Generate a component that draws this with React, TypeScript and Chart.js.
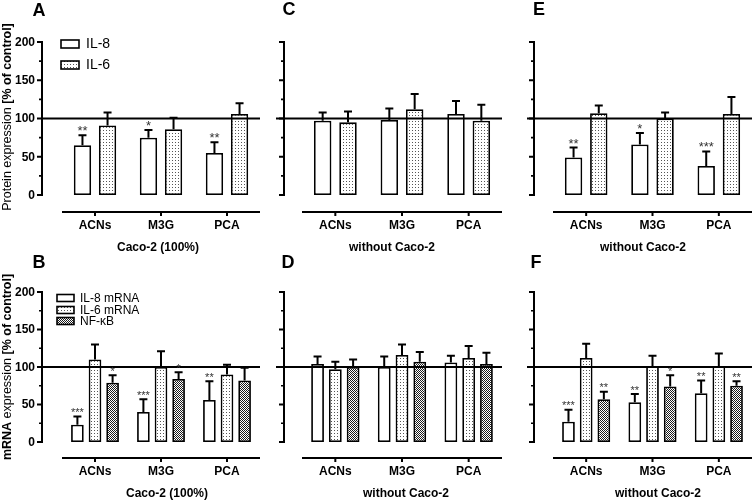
import React, { useEffect, useRef } from 'react';
import { Chart, registerables } from 'chart.js';

Chart.register(...registerables);

// ---------- data ----------
const categories = ['ACNs', 'M3G', 'PCA'];
const yMajorTicks = [0, 50, 100, 150, 200];
const yMinorTicks = [25, 75, 125, 175];
const controlLevel = 100;

const proteinLegend = ['IL-8', 'IL-6'];
const mrnaLegend = ['IL-8 mRNA', 'IL-6 mRNA', 'NF-\u03baB'];

// A: protein, Caco-2 (100%)
const aIL8 = [65, 75, 55];
const aIL8Err = [13, 10, 14];
const aIL8Sig = ['**', '*', '**'];
const aIL6 = [91, 86, 106];
const aIL6Err = [17, 15, 14];
const aIL6Sig = ['', '', ''];

// C: protein, without Caco-2
const cIL8 = [97, 98, 106];
const cIL8Err = [11, 15, 17];
const cIL8Sig = ['', '', ''];
const cIL6 = [95, 112, 97];
const cIL6Err = [14, 20, 21];
const cIL6Sig = ['', '', ''];

// E: protein, without Caco-2
const eIL8 = [49, 66, 38];
const eIL8Err = [13, 15, 19];
const eIL8Sig = ['**', '*', '***'];
const eIL6 = [107, 100, 106];
const eIL6Err = [10, 8, 22];
const eIL6Sig = ['', '', ''];

// B: mRNA, Caco-2 (100%)
const bIL8 = [23, 40, 56];
const bIL8Err = [11, 17, 25];
const bIL8Sig = ['***', '***', '**'];
const bIL6 = [110, 100, 90];
const bIL6Err = [20, 21, 13];
const bIL6Sig = ['', '', ''];
const bNF = [79, 84, 82];
const bNFErr = [10, 9, 17];
const bNFSig = ['*', '*', ''];

// D: mRNA, without Caco-2
const dIL8 = [104, 100, 106];
const dIL8Err = [10, 14, 9];
const dIL8Sig = ['', '', ''];
const dIL6 = [97, 116, 112];
const dIL6Err = [10, 14, 16];
const dIL6Sig = ['', '', ''];
const dNF = [100, 107, 104];
const dNFErr = [10, 13, 15];
const dNFSig = ['', '', ''];

// F: mRNA, without Caco-2
const fIL8 = [27, 53, 65];
const fIL8Err = [16, 11, 17];
const fIL8Sig = ['***', '**', '**'];
const fIL6 = [112, 101, 101];
const fIL6Err = [19, 14, 17];
const fIL6Sig = ['', '', ''];
const fNF = [57, 74, 75];
const fNFErr = [10, 15, 6];
const fNFSig = ['**', '*', '**'];

// ---------- layout ----------
const W = 756;
const H = 502;
const FONT = '"Liberation Sans", Arial, Helvetica, sans-serif';

const rowGeom = [
  { top: 42, bottom: 195, xAxisY: 212, labelY: 226, subY: 248, starFont: 13, starOff: 0 },
  { top: 292, bottom: 442, xAxisY: 458, labelY: 472, subY: 494, starFont: 11, starOff: 0.5 },
];
const colGeom = [
  { left: 62, right: 260, yAxisX: 42, lineStart: 42 },
  { left: 302, right: 502, yAxisX: 284, lineStart: 276 },
  { left: 553, right: 752, yAxisX: 534, lineStart: 527 },
];

type Series = { values: number[]; err: number[]; sig: string[]; fill: string };

type Panel = {
  letter: string;
  letterX: number;
  letterY: number;
  row: number;
  col: number;
  series: Series[];
  subtitle: string;
  subX: number;
  showYLabels: boolean;
  yTitle?: { text: string; bold: boolean }[];
  yTitleY?: number;
  legend?: string[];
  legendGeom?: { boxX: number; boxW: number; boxH: number; textX: number; rows: number[]; font: number };
};

const panels: Panel[] = [
  {
    letter: 'A', letterX: 39, letterY: 11, row: 0, col: 0, subtitle: 'Caco-2 (100%)', subX: 158,
    showYLabels: true,
    series: [
      { values: aIL8, err: aIL8Err, sig: aIL8Sig, fill: 'white' },
      { values: aIL6, err: aIL6Err, sig: aIL6Sig, fill: 'dots' },
    ],
    yTitle: [
      { text: 'Protein expression ', bold: false },
      { text: '[% of control]', bold: true },
    ],
    yTitleY: 117,
    legend: proteinLegend,
    legendGeom: { boxX: 61, boxW: 18, boxH: 8, textX: 86, rows: [44, 65], font: 14 },
  },
  {
    letter: 'C', letterX: 289, letterY: 10, row: 0, col: 1, subtitle: 'without Caco-2', subX: 392,
    showYLabels: false,
    series: [
      { values: cIL8, err: cIL8Err, sig: cIL8Sig, fill: 'white' },
      { values: cIL6, err: cIL6Err, sig: cIL6Sig, fill: 'dots' },
    ],
  },
  {
    letter: 'E', letterX: 539, letterY: 10, row: 0, col: 2, subtitle: 'without Caco-2', subX: 643,
    showYLabels: false,
    series: [
      { values: eIL8, err: eIL8Err, sig: eIL8Sig, fill: 'white' },
      { values: eIL6, err: eIL6Err, sig: eIL6Sig, fill: 'dots' },
    ],
  },
  {
    letter: 'B', letterX: 39, letterY: 263, row: 1, col: 0, subtitle: 'Caco-2 (100%)', subX: 167,
    showYLabels: true,
    series: [
      { values: bIL8, err: bIL8Err, sig: bIL8Sig, fill: 'white' },
      { values: bIL6, err: bIL6Err, sig: bIL6Sig, fill: 'dots' },
      { values: bNF, err: bNFErr, sig: bNFSig, fill: 'hatch' },
    ],
    yTitle: [
      { text: 'mRNA', bold: true },
      { text: ' expression ', bold: false },
      { text: '[% of control]', bold: true },
    ],
    yTitleY: 367,
    legend: mrnaLegend,
    legendGeom: { boxX: 57, boxW: 17, boxH: 7, textX: 80, rows: [298, 310, 321], font: 12 },
  },
  {
    letter: 'D', letterX: 288, letterY: 263, row: 1, col: 1, subtitle: 'without Caco-2', subX: 406,
    showYLabels: false,
    series: [
      { values: dIL8, err: dIL8Err, sig: dIL8Sig, fill: 'white' },
      { values: dIL6, err: dIL6Err, sig: dIL6Sig, fill: 'dots' },
      { values: dNF, err: dNFErr, sig: dNFSig, fill: 'hatch' },
    ],
  },
  {
    letter: 'F', letterX: 536, letterY: 263, row: 1, col: 2, subtitle: 'without Caco-2', subX: 658,
    showYLabels: false,
    series: [
      { values: fIL8, err: fIL8Err, sig: fIL8Sig, fill: 'white' },
      { values: fIL6, err: fIL6Err, sig: fIL6Sig, fill: 'dots' },
      { values: fNF, err: fNFErr, sig: fNFSig, fill: 'hatch' },
    ],
  },
];

function makePattern(kind: string): CanvasPattern | string {
  if (kind === 'white') return '#ffffff';
  const c = document.createElement('canvas');
  const ctx = c.getContext('2d')!;
  if (kind === 'dots') {
    c.width = 3;
    c.height = 3;
    ctx.fillStyle = '#ffffff';
    ctx.fillRect(0, 0, 3, 3);
    ctx.fillStyle = '#555555';
    ctx.fillRect(1, 1, 1, 1);
  } else {
    c.width = 2;
    c.height = 2;
    ctx.fillStyle = '#ffffff';
    ctx.fillRect(0, 0, 2, 2);
    ctx.fillStyle = '#1a1a1a';
    ctx.fillRect(0, 0, 1, 1);
    ctx.fillRect(1, 1, 1, 1);
  }
  return ctx.createPattern(c, 'repeat')!;
}

function makePlugin(p: Panel, fills: (CanvasPattern | string)[]) {
  const row = rowGeom[p.row];
  const col = colGeom[p.col];
  return {
    id: 'panelDecor' + p.letter,
    afterDatasetsDraw(chart: any) {
      const ctx: CanvasRenderingContext2D = chart.ctx;
      const xs = chart.scales.x;
      const ys = chart.scales.y;
      const area = chart.chartArea;
      ctx.save();
      ctx.strokeStyle = '#000';
      ctx.fillStyle = '#000';
      ctx.lineCap = 'butt';

      // control line at 100 %
      const yc = ys.getPixelForValue(controlLevel);
      ctx.lineWidth = 2.2;
      ctx.beginPath();
      ctx.moveTo(col.lineStart, yc);
      ctx.lineTo(area.right, yc);
      ctx.stroke();

      // error bars + significance
      p.series.forEach((s, i) => {
        const meta = chart.getDatasetMeta(i);
        s.values.forEach((v, j) => {
          const bar = meta.data[j];
          if (!bar) return;
          const bx = bar.x;
          const yTop = ys.getPixelForValue(v);
          const yCap = ys.getPixelForValue(v + s.err[j]);
          ctx.lineWidth = 2;
          ctx.beginPath();
          ctx.moveTo(bx, yTop);
          ctx.lineTo(bx, yCap);
          ctx.moveTo(bx - 4, yCap);
          ctx.lineTo(bx + 4, yCap);
          ctx.stroke();
          if (s.sig[j]) {
            ctx.fillStyle = '#333';
            ctx.font = `${row.starFont}px ${FONT}`;
            ctx.textAlign = 'center';
            ctx.textBaseline = 'alphabetic';
            ctx.fillText(s.sig[j], bx, yCap - row.starOff);
            ctx.fillStyle = '#000';
          }
        });
      });

      // y axis
      const y0 = ys.getPixelForValue(0);
      const y200 = ys.getPixelForValue(200);
      ctx.lineWidth = 2;
      ctx.beginPath();
      ctx.moveTo(col.yAxisX, y0 + 1);
      ctx.lineTo(col.yAxisX, y200 - 1);
      ctx.stroke();
      ctx.beginPath();
      yMajorTicks.forEach((t) => {
        const yy = ys.getPixelForValue(t);
        ctx.moveTo(col.yAxisX - 5, yy);
        ctx.lineTo(col.yAxisX, yy);
      });
      ctx.stroke();
      ctx.lineWidth = 1.6;
      ctx.beginPath();
      yMinorTicks.forEach((t) => {
        const yy = ys.getPixelForValue(t);
        ctx.moveTo(col.yAxisX - 3, yy);
        ctx.lineTo(col.yAxisX, yy);
      });
      ctx.stroke();
      if (p.showYLabels) {
        ctx.font = `bold 12px ${FONT}`;
        ctx.textAlign = 'right';
        ctx.textBaseline = 'middle';
        yMajorTicks.forEach((t) => {
          ctx.fillText(String(t), col.yAxisX - 7, ys.getPixelForValue(t) + 0.5);
        });
      }

      // x axis (detached, below)
      ctx.lineWidth = 2.2;
      ctx.beginPath();
      ctx.moveTo(area.left, row.xAxisY);
      ctx.lineTo(area.right, row.xAxisY);
      ctx.stroke();
      ctx.lineWidth = 2;
      ctx.beginPath();
      categories.forEach((_, j) => {
        const xx = xs.getPixelForValue(j);
        ctx.moveTo(xx, row.xAxisY);
        ctx.lineTo(xx, row.xAxisY + 4);
      });
      ctx.stroke();
      ctx.font = `bold 12px ${FONT}`;
      ctx.textAlign = 'center';
      ctx.textBaseline = 'middle';
      categories.forEach((c, j) => {
        ctx.fillText(c, xs.getPixelForValue(j), row.labelY);
      });
      ctx.fillText(p.subtitle, p.subX, row.subY);

      // panel letter
      ctx.font = `bold 18px ${FONT}`;
      ctx.textAlign = 'center';
      ctx.textBaseline = 'middle';
      ctx.fillText(p.letter, p.letterX, p.letterY);

      // y title
      if (p.yTitle) {
        ctx.save();
        ctx.translate(8, p.yTitleY!);
        ctx.rotate(-Math.PI / 2);
        ctx.textBaseline = 'middle';
        ctx.textAlign = 'left';
        let total = 0;
        const widths = p.yTitle.map((seg) => {
          ctx.font = `${seg.bold ? 'bold ' : ''}12.5px ${FONT}`;
          const w = ctx.measureText(seg.text).width;
          total += w;
          return w;
        });
        let cx = -total / 2;
        p.yTitle.forEach((seg, k) => {
          ctx.font = `${seg.bold ? 'bold ' : ''}12.5px ${FONT}`;
          ctx.fillText(seg.text, cx, 0);
          cx += widths[k];
        });
        ctx.restore();
      }

      // legend
      if (p.legend && p.legendGeom) {
        const g = p.legendGeom;
        p.legend.forEach((lab, k) => {
          const cy = g.rows[k];
          ctx.fillStyle = fills[k] as any;
          ctx.fillRect(g.boxX, cy - g.boxH / 2, g.boxW, g.boxH);
          ctx.lineWidth = 1.6;
          ctx.strokeStyle = '#000';
          ctx.strokeRect(g.boxX, cy - g.boxH / 2, g.boxW, g.boxH);
          ctx.fillStyle = '#000';
          ctx.font = `${g.font}px ${FONT}`;
          ctx.textAlign = 'left';
          ctx.textBaseline = 'middle';
          ctx.fillText(lab, g.textX, cy + 0.5);
        });
      }
      ctx.restore();
    },
  };
}

function PanelChart({ panel }: { panel: Panel }) {
  const ref = useRef<HTMLCanvasElement | null>(null);
  useEffect(() => {
    if (!ref.current) return;
    const row = rowGeom[panel.row];
    const col = colGeom[panel.col];
    const fills = panel.series.map((s) => makePattern(s.fill));
    const n = panel.series.length;
    const catPct = n === 2 ? 0.76 : 0.8;
    const barPct = n === 2 ? 0.69 : 0.72;
    const chart = new Chart(ref.current, {
      type: 'bar',
      data: {
        labels: categories,
        datasets: panel.series.map((s, i) => ({
          label: (panel.legend && panel.legend[i]) || String(i),
          data: s.values,
          backgroundColor: fills[i] as any,
          borderColor: '#000',
          borderWidth: 1.8,
          borderSkipped: false,
          categoryPercentage: catPct,
          barPercentage: barPct,
        })),
      },
      options: {
        responsive: false,
        maintainAspectRatio: false,
        animation: false,
        events: [],
        layout: {
          padding: {
            left: col.left,
            right: W - col.right,
            top: row.top,
            bottom: H - row.bottom,
          },
        },
        scales: {
          x: { display: false },
          y: { display: false, min: 0, max: 200 },
        },
        plugins: {
          legend: { display: false },
          tooltip: { enabled: false },
        },
      },
      plugins: [makePlugin(panel, fills)],
    } as any);
    return () => chart.destroy();
  }, [panel]);
  return (
    <canvas
      ref={ref}
      width={W}
      height={H}
      style={{ position: 'absolute', left: 0, top: 0, width: W, height: H }}
    />
  );
}

export default function App() {
  return (
    <div
      style={{
        position: 'fixed',
        left: 0,
        top: 0,
        width: W,
        height: H,
        background: '#ffffff',
        overflow: 'hidden',
      }}
    >
      {panels.map((p) => (
        <PanelChart key={p.letter} panel={p} />
      ))}
    </div>
  );
}
